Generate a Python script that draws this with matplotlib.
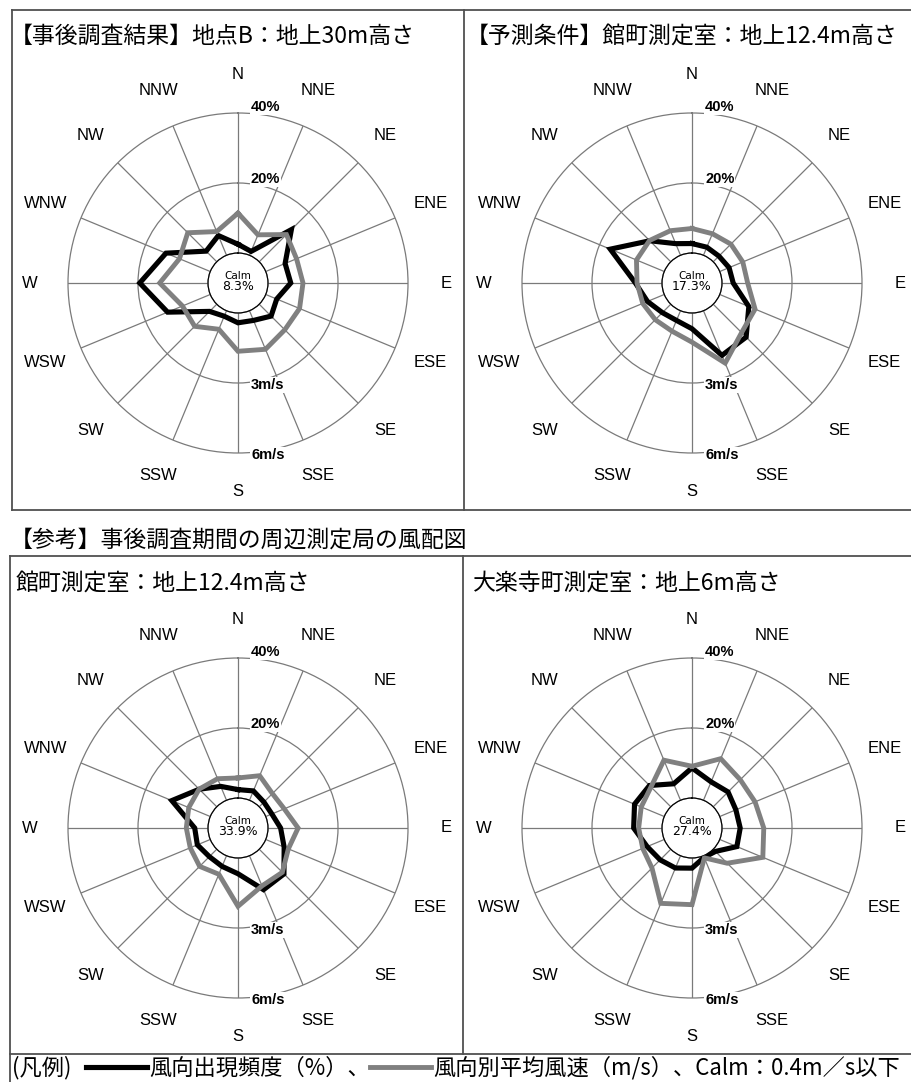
import numpy as np
import matplotlib
matplotlib.use("Agg")
import matplotlib.pyplot as plt
from matplotlib.lines import Line2D

plt.rcParams['font.family'] = ['Noto Sans CJK JP', 'DejaVu Sans']

directions = ["N", "NNE", "NE", "ENE", "E", "ESE", "SE", "SSE",
              "S", "SSW", "SW", "WSW", "W", "WNW", "NW", "NNW"]

# 事後調査結果 地点B (30m)
freq_b = [2.5, 1.2, 13.0, 6.0, 6.5, 3.4, 4.8, 3.0, 2.8, 1.7, 2.9, 13.2, 19.5, 13.7, 4.3, 6.1]
speed_b = [1.71, 0.95, 1.65, 1.43, 1.5, 1.57, 1.55, 1.79, 1.64, 0.86, 1.34, 1.29, 2.07, 1.43, 1.76, 1.1]
calm_b = 8.3

# 予測条件 館町測定室 (12.4m)
freq_p = [2.7, 2.5, 2.3, 2.9, 3.2, 9.0, 13.3, 13.8, 4.5, 3.0, 3.4, 5.2, 7.6, 16.7, 8.5, 3.6]
speed_p = [1.05, 1.0, 1.07, 1.07, 1.1, 1.64, 1.72, 2.43, 1.25, 0.95, 0.94, 1.0, 1.07, 1.29, 1.29, 1.14]
calm_p = 17.3

# 参考 館町測定室 (12.4m)
freq_t = [2.4, 2.9, 1.9, 1.9, 3.6, 5.7, 10.0, 10.5, 4.5, 3.3, 3.0, 4.0, 3.8, 11.9, 7.1, 4.3]
speed_t = [0.86, 1.14, 0.8, 0.86, 1.29, 1.05, 1.4, 1.4, 2.07, 0.86, 1.04, 0.93, 0.93, 1.0, 1.07, 1.0]
calm_t = 33.9

# 参考 大楽寺町測定室 (6m)
freq_d = [8.6, 5.7, 6.0, 5.0, 5.2, 5.3, 0.9, 0.5, 2.9, 3.8, 4.3, 5.3, 8.1, 9.2, 8.6, 5.1]
speed_d = [1.36, 1.93, 1.64, 1.64, 1.79, 2.0, 0.85, 0.1, 2.0, 2.21, 1.14, 1.0, 1.0, 1.07, 1.2, 1.86]
calm_d = 27.4

titles = ["【事後調査結果】地点B：地上30m高さ",
          "【予測条件】館町測定室：地上12.4m高さ",
          "館町測定室：地上12.4m高さ",
          "大楽寺町測定室：地上6m高さ"]
ref_title = "【参考】事後調査期間の周辺測定局の風配図"
legend_labels = ["風向出現頻度（%）、", "風向別平均風速（m/s）、Calm：0.4m／s以下"]

W, H = 911, 1082
R_OUT = 170          # pixel radius of the outer ring
R_CALM = 30          # pixel radius of the calm circle
F_MAX, V_MAX = 40, 6
F_ORIGIN = -F_MAX * R_CALM / (R_OUT - R_CALM)
V_ORIGIN = F_ORIGIN * V_MAX / F_MAX
GRID = '#7a7a7a'
BORDER = '#505050'

theta = np.deg2rad(np.arange(16) * 22.5)
theta_c = np.append(theta, theta[0])

fig = plt.figure(figsize=(W / 100, H / 100), dpi=100)


def fx(x):
    return x / W


def fy(y):
    return 1 - y / H


def line(x0, y0, x1, y1):
    fig.add_artist(Line2D([fx(x0), fx(x1)], [fy(y0), fy(y1)], transform=fig.transFigure,
                          color=BORDER, lw=1.3))


def setup_polar(ax, rmax, rorigin):
    ax.set_theta_zero_location('N')
    ax.set_theta_direction(-1)
    ax.set_ylim(0, rmax)
    ax.set_rorigin(rorigin)
    ax.set_xticks(theta)
    ax.set_xticklabels([])
    ax.tick_params(length=0)


def rose(cx, cy, freq, speed, calm):
    rect = [fx(cx - R_OUT), fy(cy + R_OUT), 2 * R_OUT / W, 2 * R_OUT / H]
    ax = fig.add_axes(rect, projection='polar')
    setup_polar(ax, F_MAX, F_ORIGIN)
    ax.set_yticks([20])
    ax.set_yticklabels([])
    ax.grid(True, color=GRID, lw=0.9)
    for name in ['polar', 'inner']:
        ax.spines[name].set_color(GRID)
        ax.spines[name].set_linewidth(0.9)

    ax2 = fig.add_axes(rect, projection='polar', label=f'speed{cx}{cy}')
    setup_polar(ax2, V_MAX, V_ORIGIN)
    ax2.set_yticks([])
    ax2.grid(False)
    ax2.set_facecolor('none')
    for sp in ax2.spines.values():
        sp.set_visible(False)

    f = np.append(freq, freq[0])
    v = np.append(speed, speed[0])
    h1, = ax.plot(theta_c, f, color='black', lw=3.7, solid_joinstyle='miter', zorder=5)
    h2, = ax2.plot(theta_c, v, color='#808080', lw=3.5, solid_joinstyle='miter', zorder=4)

    for t, name in zip(theta, directions):
        ax.text(t, 51, name, ha='center', va='center', fontsize=12,
                family='Liberation Sans', clip_on=False)

    lab = dict(textcoords='offset pixels', ha='left', va='center', fontsize=10.5,
               fontweight='bold', family='Liberation Sans', annotation_clip=False,
               bbox=dict(fc='white', ec='none', pad=0.5), zorder=6)
    ax.annotate('40%', xy=(0, 40), xytext=(13, 6), **lab)
    ax.annotate('20%', xy=(0, 20), xytext=(13, 4), **lab)
    ax2.annotate('3m/s', xy=(np.pi, 3), xytext=(13, -2), **lab)
    ax2.annotate('6m/s', xy=(np.pi, 6), xytext=(13, -2), **lab)

    ax.text(0.5, 0.522, 'Calm', transform=ax.transAxes, ha='center', va='center',
            fontsize=7.5, family='DejaVu Sans')
    ax.text(0.5, 0.49, f'{calm}%', transform=ax.transAxes, ha='center', va='center',
            fontsize=9, family='DejaVu Sans')
    return h1, h2


# frames
line(12, 10, W, 10)
line(12, 510, W, 510)
line(12, 10, 12, 510)
line(464, 10, 464, 510)
line(10, 556, W, 556)
line(10, 556, 10, H)
line(463, 556, 463, 1054)
line(10, 1054, W, 1054)

fig.text(fx(10), fy(36), titles[0], fontsize=16.5, ha='left', va='center')
fig.text(fx(466), fy(36), titles[1], fontsize=16.5, ha='left', va='center')
fig.text(fx(10), fy(540), ref_title, fontsize=16.5, ha='left', va='center')
fig.text(fx(16), fy(583), titles[2], fontsize=16.5, ha='left', va='center')
fig.text(fx(473), fy(583), titles[3], fontsize=16.5, ha='left', va='center')

rose(238, 283, freq_b, speed_b, calm_b)
rose(692, 283, freq_p, speed_p, calm_p)
rose(238, 828, freq_t, speed_t, calm_t)
h_freq, h_speed = rose(692, 828, freq_d, speed_d, calm_d)

fig.text(fx(12), fy(1068), '(凡例)', fontsize=16, ha='left', va='center')
fig.legend([h_freq, h_speed], legend_labels, loc='center left',
           bbox_to_anchor=(fx(86), fy(1068)), ncol=2, frameon=False, fontsize=16,
           handlelength=2.75, handletextpad=0.1, columnspacing=0.0,
           borderpad=0, borderaxespad=0)

fig.savefig('out.png', dpi=100, facecolor='white')
